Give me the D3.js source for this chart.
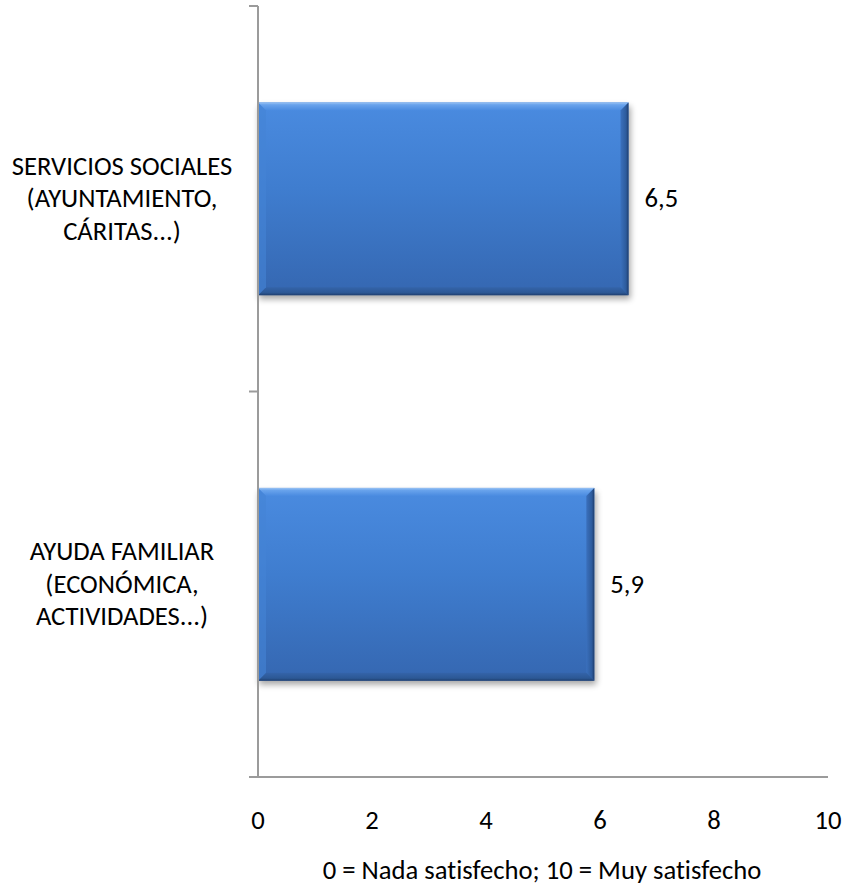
<!DOCTYPE html>
<html>
<head>
<meta charset="utf-8">
<script src="https://cdn.jsdelivr.net/npm/d3@7/dist/d3.min.js"></script>
<style>
  html, body { margin: 0; padding: 0; background: #ffffff; }
  svg { display: block; }
  text { font-family: Carlito, Calibri, Lato, "Open Sans", sans-serif; fill: #000; font-variant-ligatures: none; }
</style>
</head>
<body>
<svg id="chart" width="843" height="885"></svg>
<script>
// Satisfaction scores (0-10) for each source of help
const categories = [
  ["SERVICIOS SOCIALES", "(AYUNTAMIENTO,", "CÁRITAS...)"],
  ["AYUDA FAMILIAR", "(ECONÓMICA,", "ACTIVIDADES...)"]
];
const values = [6.5, 5.9];
const valueLabels = ["6,5", "5,9"];
const xTicks = [0, 2, 4, 6, 8, 10];
const axisTitle = "0 = Nada satisfecho; 10 = Muy satisfecho";

const svg = d3.select("#chart");
const fontSize = 26.67;
const axisColor = "#9b9b9b";

const keys = categories.map((c, i) => "c" + i);
const x = d3.scaleLinear().domain([0, 10]).range([258, 828]);
const y = d3.scaleBand().domain(keys).range([6, 777]).paddingInner(0.5).paddingOuter(0.25);

const defs = svg.append("defs");
const fill = defs.append("linearGradient").attr("id", "barFill")
  .attr("x1", 0).attr("y1", 0).attr("x2", 0).attr("y2", 1);
fill.append("stop").attr("offset", "0%").attr("stop-color", "#4a8be0");
fill.append("stop").attr("offset", "45%").attr("stop-color", "#3f7dcf");
fill.append("stop").attr("offset", "100%").attr("stop-color", "#3567b1");

const topBevel = defs.append("linearGradient").attr("id", "topBevel")
  .attr("x1", 0).attr("y1", 0).attr("x2", 0).attr("y2", 1);
topBevel.append("stop").attr("offset", "0%").attr("stop-color", "#9cc4f4");
topBevel.append("stop").attr("offset", "30%").attr("stop-color", "#69a3ec");
topBevel.append("stop").attr("offset", "100%").attr("stop-color", "#4a8be0");

const bottomBevel = defs.append("linearGradient").attr("id", "bottomBevel")
  .attr("x1", 0).attr("y1", 0).attr("x2", 0).attr("y2", 1);
bottomBevel.append("stop").attr("offset", "0%").attr("stop-color", "#3464aa");
bottomBevel.append("stop").attr("offset", "70%").attr("stop-color", "#2c5895");
bottomBevel.append("stop").attr("offset", "100%").attr("stop-color", "#1f3f70");

const rightBevel = defs.append("linearGradient").attr("id", "rightBevel")
  .attr("x1", 0).attr("y1", 0).attr("x2", 1).attr("y2", 0);
rightBevel.append("stop").attr("offset", "0%").attr("stop-color", "#3a70bd");
rightBevel.append("stop").attr("offset", "70%").attr("stop-color", "#2d5b9c");
rightBevel.append("stop").attr("offset", "100%").attr("stop-color", "#1d3c6c");

const shadow = defs.append("filter").attr("id", "shadow")
  .attr("x", "-10%").attr("y", "-10%").attr("width", "120%").attr("height", "130%");
shadow.append("feGaussianBlur").attr("in", "SourceAlpha").attr("stdDeviation", 3);

// Category axis (left)
const gy = svg.append("g");
gy.append("line")
  .attr("x1", x(0)).attr("x2", x(0))
  .attr("y1", y.range()[0]).attr("y2", y.range()[1])
  .attr("stroke", axisColor).attr("stroke-width", 2);
const boundaries = [y.range()[0], (y(keys[0]) + y.bandwidth() + y(keys[1])) / 2, y.range()[1]];
gy.selectAll("line.tick").data(boundaries).join("line")
  .attr("class", "tick")
  .attr("x1", x(0) - 9).attr("x2", x(0))
  .attr("y1", d => d).attr("y2", d => d)
  .attr("stroke", axisColor).attr("stroke-width", 2);

// Value axis (bottom)
const gx = svg.append("g");
gx.append("line")
  .attr("x1", x(0)).attr("x2", x(10))
  .attr("y1", y.range()[1]).attr("y2", y.range()[1])
  .attr("stroke", axisColor).attr("stroke-width", 2);
gx.selectAll("text").data(xTicks).join("text")
  .attr("x", d => x(d)).attr("y", 829)
  .attr("text-anchor", "middle")
  .attr("font-size", fontSize)
  .text(d => d);
svg.append("text")
  .attr("x", 542).attr("y", 879)
  .attr("text-anchor", "middle")
  .attr("font-size", fontSize)
  .text(axisTitle);

// Bars with a beveled look and soft shadow
const bev = 8;
const bars = svg.append("g").selectAll("g").data(values).join("g");
bars.append("rect")
  .attr("x", x(0) + 1).attr("y", (d, i) => y(keys[i]) + 4)
  .attr("width", d => x(d) - x(0) + 1).attr("height", y.bandwidth())
  .attr("fill", "#000").attr("opacity", 0.35)
  .attr("filter", "url(#shadow)");
bars.append("rect")
  .attr("x", x(0)).attr("y", (d, i) => y(keys[i]))
  .attr("width", d => x(d) - x(0)).attr("height", y.bandwidth())
  .attr("fill", "url(#barFill)");
bars.append("path")
  .attr("fill", "url(#topBevel)")
  .attr("d", (d, i) => {
    const x0 = x(0), x1 = x(d), y0 = y(keys[i]);
    return `M${x0},${y0}L${x1},${y0}L${x1 - bev},${y0 + bev}L${x0 + bev},${y0 + bev}Z`;
  });
bars.append("path")
  .attr("fill", "url(#rightBevel)")
  .attr("d", (d, i) => {
    const x1 = x(d), y0 = y(keys[i]), y1 = y0 + y.bandwidth();
    return `M${x1},${y0}L${x1},${y1}L${x1 - bev},${y1 - bev}L${x1 - bev},${y0 + bev}Z`;
  });
bars.append("path")
  .attr("fill", "url(#bottomBevel)")
  .attr("d", (d, i) => {
    const x0 = x(0), x1 = x(d), y1 = y(keys[i]) + y.bandwidth();
    return `M${x0},${y1}L${x1},${y1}L${x1 - bev},${y1 - bev}L${x0 + bev},${y1 - bev}Z`;
  });
bars.append("path")
  .attr("fill", "#4584d6").attr("opacity", 0.6)
  .attr("d", (d, i) => {
    const x0 = x(0), y0 = y(keys[i]), y1 = y0 + y.bandwidth();
    return `M${x0},${y0}L${x0 + bev},${y0 + bev}L${x0 + bev},${y1 - bev}L${x0},${y1}Z`;
  });

// Value labels
svg.append("g").selectAll("text").data(values).join("text")
  .attr("x", d => x(d) + 16)
  .attr("y", (d, i) => y(keys[i]) + y.bandwidth() / 2 + 8.7)
  .attr("font-size", fontSize)
  .text((d, i) => valueLabels[i]);

// Category labels, three lines each
const catG = svg.append("g").selectAll("text").data(categories).join("text")
  .attr("text-anchor", "middle")
  .attr("font-size", fontSize);
catG.selectAll("tspan").data((d, i) => d.map(t => ({ t, i }))).join("tspan")
  .attr("x", 122)
  .attr("y", (d, j) => y(keys[d.i]) + y.bandwidth() / 2 + 8.7 + (j - 1) * 32.5)
  .text(d => d.t);

// Re-draw the axis line over the bar edge
svg.append("line")
  .attr("x1", x(0)).attr("x2", x(0))
  .attr("y1", y.range()[0]).attr("y2", y.range()[1])
  .attr("stroke", axisColor).attr("stroke-width", 2);
</script>
</body>
</html>
